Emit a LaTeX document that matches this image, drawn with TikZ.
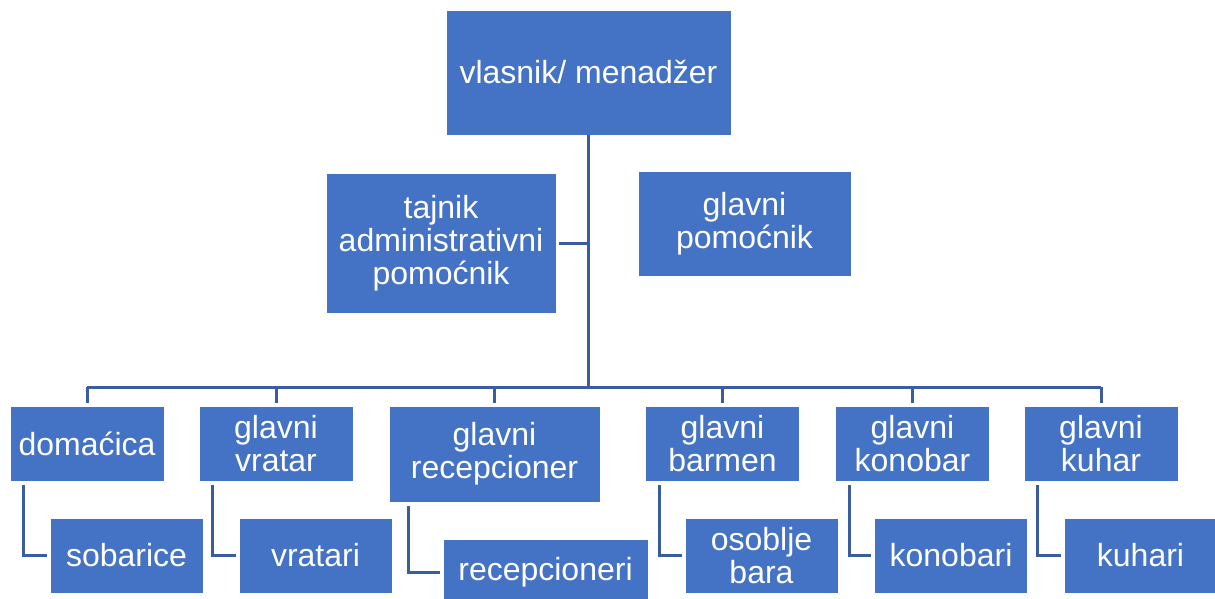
\documentclass[tikz,border=0pt]{standalone}
\usepackage{fontspec}
\setmainfont{Liberation Sans}
\usetikzlibrary{positioning}
\definecolor{boxblue}{RGB}{68,114,196}
\definecolor{lineblue}{RGB}{58,93,158}

\begin{document}
\begin{tikzpicture}[x=1pt,y=-1pt,
	onode/.style={rectangle,draw=white,thin,fill=boxblue,text=white,align=center,inner sep=0pt,font=\fontsize{32}{33}\selectfont},
	small/.style={onode,minimum width=154pt,minimum height=75pt},
	conn/.style={draw=lineblue,line width=3pt}]
		\useasboundingbox (0,0) rectangle (1215,598);
		% top level
		\node[onode,minimum width=285pt,minimum height=125pt] (boss) at (588.5,72.5) {vlasnik/ menad\v{z}er};
		\node[onode,minimum width=230pt,minimum height=140pt] (taj) at (441,243) {tajnik\\administrativni\\pomo\'cnik};
		\node[onode,minimum width=213pt,minimum height=105pt] (pom) at (744.5,223.5) {glavni\\pomo\'cnik};
		% heads
		\node[small] (dom) at (87,443.5) {doma\'cica};
		\node[small] (vrat) at (276,443.5) {glavni\\vratar};
		\node[onode,minimum width=211pt,minimum height=96pt] (rec) at (494.5,454) {glavni\\recepcioner};
		\node[small] (bar) at (722.5,443.5) {glavni\\barmen};
		\node[small] (kon) at (912.5,443.5) {glavni\\konobar};
		\node[small] (kuh) at (1101,443.5) {glavni\\kuhar};
		% staff
		\node[small,minimum width=153pt] (sob) at (126.5,555.5) {sobarice};
		\node[small,minimum width=153pt] (vrati) at (315.5,555.5) {vratari};
		\node[onode,minimum width=205pt,minimum height=66pt] (reci) at (545.5,572) {recepcioneri};
		\node[small,minimum width=153pt] (osob) at (761.5,555.5) {osoblje\\bara};
		\node[small,minimum width=153pt] (koni) at (951,555.5) {konobari};
		\node[small,minimum width=153pt] (kuhi) at (1140.5,555.5) {kuhari};
		% lines
		\coordinate (hub) at (588.5,387);
		\draw[conn] (boss.south) -- (hub);
		\draw[conn] ([xshift=3pt]taj.east) -- (taj.east -| hub);
		\draw[conn] (dom.north |- hub) -- (kuh.north |- hub);
		\foreach \n in {dom,vrat,rec,bar,kon,kuh}
			\draw[conn,shorten >=3pt] (\n.north |- hub) -- (\n.north);
		\draw[conn,shorten <=4pt,shorten >=3pt] ([xshift=14pt]dom.south west) |- (sob.west);
		\draw[conn,shorten <=4pt,shorten >=3pt] ([xshift=14pt]vrat.south west) |- (vrati.west);
		\draw[conn,shorten <=4pt,shorten >=3pt] ([xshift=20pt]rec.south west) |- (reci.west);
		\draw[conn,shorten <=4pt,shorten >=3pt] ([xshift=14pt]bar.south west) |- (osob.west);
		\draw[conn,shorten <=4pt,shorten >=3pt] ([xshift=14pt]kon.south west) |- (koni.west);
		\draw[conn,shorten <=4pt,shorten >=3pt] ([xshift=14pt]kuh.south west) |- (kuhi.west);
	\end{tikzpicture}
\end{document}
